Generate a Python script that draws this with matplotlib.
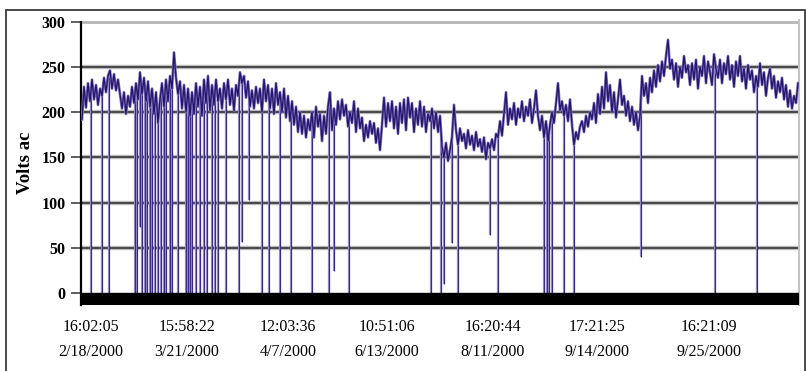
import numpy as np
import matplotlib
matplotlib.use("Agg")
import matplotlib.pyplot as plt
from matplotlib.patches import Rectangle

# ---- data (sample index = one reading) ----
volts = [
    192, 228, 205, 232, 212, 236, 214, 230, 208, 226,
    218, 238, 222, 240, 246, 226, 242, 224, 236, 220,
    204, 222, 198, 218, 206, 228, 210, 232, 214, 244,
    220, 238, 212, 234, 206, 226, 198, 222, 188, 214,
    232, 206, 236, 212, 240, 226, 266, 238, 220, 234,
    204, 230, 200, 226, 196, 222, 198, 232, 206, 228,
    196, 236, 210, 240, 202, 230, 208, 236, 212, 226,
    204, 232, 214, 236, 208, 226, 202, 230, 218, 244,
    232, 240, 216, 234, 206, 224, 204, 228, 210, 226,
    200, 236, 212, 230, 204, 226, 198, 232, 208, 222,
    200, 226, 194, 218, 190, 212, 186, 206, 178, 200,
    176, 196, 172, 192, 180, 200, 172, 206, 184, 198,
    168, 196, 176, 206, 222, 180, 204, 186, 212, 192,
    214, 196, 208, 184, 200, 188, 212, 178, 204, 182,
    194, 168, 186, 172, 190, 176, 188, 166, 182, 158,
    186, 216, 184, 210, 190, 212, 182, 206, 176, 210,
    188, 214, 180, 216, 194, 210, 178, 204, 186, 212,
    184, 206, 178, 198, 190, 204, 182, 200, 178, 196,
    162, 150, 166, 146, 158, 172, 208, 180, 164, 182,
    168, 176, 160, 180, 164, 174, 158, 178, 162, 170,
    156, 172, 148, 166, 160, 170, 158, 176, 172, 190,
    174, 198, 222, 186, 204, 192, 210, 186, 204, 194,
    212, 190, 206, 196, 214, 188, 204, 224, 196, 180,
    196, 172, 190, 168, 186, 200, 188, 210, 232, 202,
    212, 196, 208, 190, 214, 186, 164, 178, 170, 184,
    190, 178, 196, 184, 200, 192, 210, 188, 220, 198,
    228, 204, 244, 212, 230, 200, 222, 194, 214, 236,
    208, 218, 196, 212, 190, 206, 186, 200, 180, 196,
    240, 218, 232, 210, 238, 222, 246, 228, 252, 234,
    256, 240, 262, 280, 248, 258, 236, 254, 228, 250,
    238, 262, 244, 252, 230, 254, 236, 258, 226, 250,
    240, 262, 232, 256, 244, 230, 264, 248, 238, 258,
    232, 254, 242, 262, 236, 252, 228, 256, 240, 262,
    234, 248, 226, 252, 236, 246, 222, 240, 228, 254,
    230, 244, 218, 238, 248, 226, 240, 216, 234, 222,
    238, 214, 230, 206, 224, 204, 218, 210, 232,
]

# dropouts: reading index and lowest voltage reached
drop_pos = [4.5, 10, 13.5, 26.3, 27.7, 28.8, 30, 31.3, 32.5, 33.8, 35, 36.7, 38,
            39.3, 40.8, 42.2, 43.8, 45.2, 48, 52, 53, 54, 55, 57, 59, 61,
            62.5, 65, 66.5, 68, 72, 78.5, 80, 83.5, 90, 93.5, 99, 104.5,
            115, 123.5, 126, 133.5, 174.5, 179.5, 181, 185, 188, 204, 208,
            231, 232.5, 233.5, 235, 241, 246, 279.5, 316.5, 337.5]
drop_min = [0, 0, 0, 0, 0, 73, 0, 0, 0, 0, 0, 0, 0,
            0, 0, 0, 0, 0, 0, 0, 0, 0, 0, 0, 0, 0,
            0, 0, 0, 0, 0, 0, 56, 103, 0, 0, 0, 0,
            0, 0, 24, 0, 0, 0, 10, 55, 0, 64, 0,
            0, 0, 0, 0, 0, 0, 40, 0, 0]

tick_pos = [4.5, 52.5, 103, 152.5, 205.5, 257.5, 313.5]
tick_times = ["16:02:05", "15:58:22", "12:03:36", "10:51:06",
              "16:20:44", "17:21:25", "16:21:09"]
tick_dates = ["2/18/2000", "3/21/2000", "4/7/2000", "6/13/2000",
              "8/11/2000", "9/14/2000", "9/25/2000"]
y_ticks = [0, 50, 100, 150, 200, 250, 300]

# ---- figure ----
W, H = 806, 371
fig = plt.figure(figsize=(W / 100, H / 100), dpi=100)
fig.patch.set_facecolor("white")

ppu = 271.3 / 300.0          # pixels per volt
y_top_val, y_bot_val = 302.0, -13.3
top_px = 293 - y_top_val * ppu
bot_px = 305
ax = fig.add_axes([81 / W, 1 - bot_px / H, (799 - 81) / W, (bot_px - top_px) / H])

x = np.arange(len(volts))
ax.set_xlim(-0.5, len(volts) - 0.5)
ax.set_ylim(y_bot_val, y_top_val)

# gridlines
for v in y_ticks[1:-1]:
    ax.axhline(v, color="#c8c8c8", lw=3.2, zorder=1)
    ax.axhline(v, color="#4a4a4a", lw=1.6, zorder=1.1)
ax.axhline(300, color="#b4b4b4", lw=2.0, zorder=1)

# dropouts
tops = np.interp(drop_pos, x, volts)
ax.vlines(drop_pos, drop_min, tops, color="#9a8ec8", lw=1.6, zorder=2)
ax.vlines(drop_pos, drop_min, tops, color="#3a2a86", lw=0.8, zorder=2.1)

# trace
ax.plot(x, volts, color="#8a7cc0", lw=2.0, zorder=3, solid_joinstyle="round")
ax.plot(x, volts, color="#26166e", lw=1.0, zorder=3.1)

# black base bar
ax.axhspan(y_bot_val, 0, color="black", zorder=4)

# spines
for s in ["top", "bottom"]:
    ax.spines[s].set_visible(False)
ax.spines["right"].set_color("#c4c4c4")
ax.spines["right"].set_linewidth(1.5)
ax.spines["left"].set_color("black")
ax.spines["left"].set_linewidth(1.6)
ax.spines["left"].set_bounds(y_bot_val, 300)

ax.set_yticks(y_ticks)
ax.set_yticklabels([str(v) for v in y_ticks], family="Liberation Serif",
                   fontweight="bold", fontsize=11.5)
ax.tick_params(axis="y", direction="out", length=7, width=1.2, color="#444444", pad=4)

ax.set_xticks(tick_pos)
ax.set_xticklabels([t + "\n" + d for t, d in zip(tick_times, tick_dates)],
                   family="Liberation Serif", fontsize=11.5, linespacing=1.75)
ax.tick_params(axis="x", length=0, pad=10)

ax.set_ylabel("Volts ac", family="Liberation Serif", fontweight="bold", fontsize=13.5)
ax.yaxis.set_label_coords(-0.066, 0.5)

# outer frame
fig.add_artist(Rectangle((6 / W, -0.05), (805 - 6) / W, (1 - 10 / H) + 0.05,
                         transform=fig.transFigure, fill=False,
                         edgecolor="#3c3c3c", lw=1.3))

fig.savefig("out.png", dpi=100)
